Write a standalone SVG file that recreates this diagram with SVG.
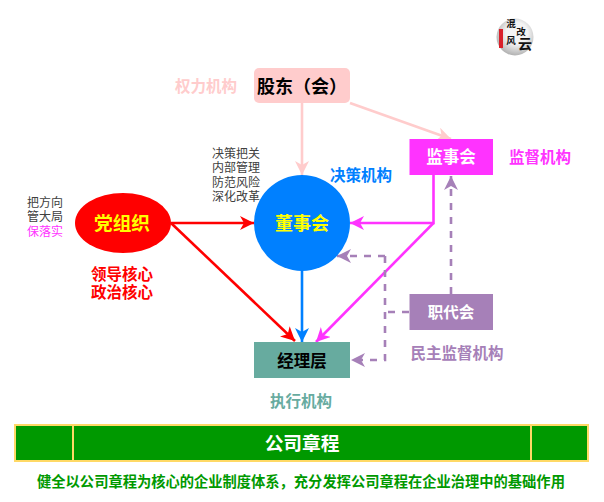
<svg xmlns="http://www.w3.org/2000/svg" width="604" height="502" viewBox="0 0 604 502">
<style>
text{font-family:"Liberation Sans","Noto Sans CJK SC",sans-serif;text-anchor:middle}
.b{font-weight:700}
.l14{font-size:15.500px;font-weight:700}
.s{font-size:12px;fill:#404040}
.c{fill:none;stroke-width:2.6}
.d{stroke-dasharray:7 7}
.g{font-family:"Liberation Serif","Noto Sans CJK SC",serif;font-weight:700;fill:#111}
</style>
<defs>
<radialGradient id="lg" cx="0.55" cy="0.4" r="0.65"><stop offset="0.45" stop-color="#f4f4f4"/><stop offset="1" stop-color="#a8a8a8"/></radialGradient>
<marker id="ap" markerUnits="userSpaceOnUse" markerWidth="16" markerHeight="14" refX="14" refY="7" orient="auto"><path d="M0 0L14 7L0 14L4 7Z" fill="#ffcccc"/></marker>
<marker id="ar" markerUnits="userSpaceOnUse" markerWidth="16" markerHeight="14" refX="14" refY="7" orient="auto"><path d="M0 0L14 7L0 14L4 7Z" fill="#ff0000"/></marker>
<marker id="am" markerUnits="userSpaceOnUse" markerWidth="16" markerHeight="14" refX="14" refY="7" orient="auto"><path d="M0 0L14 7L0 14L4 7Z" fill="#ff33ff"/></marker>
<marker id="ab" markerUnits="userSpaceOnUse" markerWidth="16" markerHeight="14" refX="14" refY="7" orient="auto"><path d="M0 0L14 7L0 14L4 7Z" fill="#0080ff"/></marker>
<marker id="av" markerUnits="userSpaceOnUse" markerWidth="16" markerHeight="14" refX="14" refY="7" orient="auto"><path d="M0 0L14 7L0 14L4 7Z" fill="#a680b8"/></marker>
</defs>
<g id="connectors">
<path class="c" stroke="#ffcccc" d="M302 103V175" marker-end="url(#ap)"/>
<path class="c" stroke="#ffcccc" d="M350 103L451 139" marker-end="url(#ap)"/>
<path class="c" stroke="#ff0000" d="M171 223H254" marker-end="url(#ar)"/>
<path class="c" stroke="#ff0000" d="M171 223L295 341" marker-end="url(#ar)"/>
<path class="c" stroke="#0080ff" d="M302 270V342" marker-end="url(#ab)"/>
<path class="c" stroke="#ff33ff" d="M433.500 175V223H350" marker-end="url(#am)"/>
<path class="c" stroke="#ff33ff" d="M433.500 223L316 342" marker-end="url(#am)"/>
<path class="c d" stroke="#a680b8" d="M451 294V176" marker-end="url(#av)"/>
<path class="c d" stroke="#a680b8" d="M409 312H388"/>
<path class="c d" stroke="#a680b8" d="M385 256H337" marker-end="url(#av)"/>
<path class="c d" stroke="#a680b8" d="M385 256V360H351" marker-end="url(#av)"/>
</g>
<g id="logo">
<circle cx="515" cy="37" r="18.500" fill="url(#lg)"/>
<rect x="499" y="29" width="4" height="19" fill="#d9202a"/>
<text x="511" y="27" font-size="9.500" class="g">混</text>
<text x="521" y="35" font-size="9.500" class="g">改</text>
<text x="511" y="44" font-size="9.500" class="g">风</text>
<text x="525" y="49" font-size="14" class="g">云</text>
</g>
<g id="shareholders">
<rect x="254" y="68" width="96" height="35" rx="5" fill="#ffcccc"/>
<text x="302" y="93" font-size="18" class="b" fill="#000">股东（会）</text>
</g>
<text x="206" y="92" class="l14" fill="#ffcccc">权力机构</text>
<g id="supervisors">
<rect x="409.500" y="139" width="83.500" height="36" fill="#ff33ff"/>
<text x="451" y="163" font-size="16.500" class="b" fill="#fff">监事会</text>
</g>
<text x="540" y="163" class="l14" fill="#ff33ff">监督机构</text>
<g id="board">
<circle cx="302" cy="223" r="48" fill="#0080ff"/>
<text x="302" y="230" font-size="18" class="b" fill="#ffff00">董事会</text>
</g>
<text x="361" y="181" class="l14" fill="#0080ff">决策机构</text>
<g id="board-notes">
<text x="236" y="158" class="s">决策把关</text>
<text x="236" y="172" class="s">内部管理</text>
<text x="236" y="187" class="s">防范风险</text>
<text x="236" y="201" class="s">深化改革</text>
</g>
<g id="party">
<ellipse cx="123" cy="223" rx="48" ry="30" fill="#ff0000"/>
<text x="122" y="230" font-size="18.700" class="b" fill="#ffff00">党组织</text>
</g>
<g id="party-notes">
<text x="45" y="207" class="s">把方向</text>
<text x="45" y="221" class="s">管大局</text>
<text x="45" y="236" class="s" style="fill:#ff33ff">保落实</text>
</g>
<g id="party-role">
<text x="122" y="280" class="l14" fill="#ff0000">领导核心</text>
<text x="122" y="298" class="l14" fill="#ff0000">政治核心</text>
</g>
<g id="workers">
<rect x="409.500" y="294" width="83.500" height="36" fill="#a680b8"/>
<text x="451" y="318" font-size="15.500" class="b" fill="#fff">职代会</text>
</g>
<text x="457" y="359" class="l14" fill="#a680b8">民主监督机构</text>
<g id="manager">
<rect x="254" y="342" width="96" height="36" fill="#67ab9f"/>
<text x="302" y="367" font-size="16.500" class="b" fill="#000">经理层</text>
</g>
<text x="301" y="407" class="l14" fill="#67ab9f">执行机构</text>
<g id="charter">
<rect x="15" y="425" width="573" height="36" fill="#009900" stroke="#ffd966" stroke-width="2"/>
<path d="M73 425V461M531 425V461" stroke="#ffd966" stroke-width="2" fill="none"/>
<text x="302" y="450" font-size="18.700" class="b" fill="#fff">公司章程</text>
</g>
<text x="301" y="487" font-size="14.270" class="b" fill="#009900">健全以公司章程为核心的企业制度体系，充分发挥公司章程在企业治理中的基础作用</text>
</svg>
